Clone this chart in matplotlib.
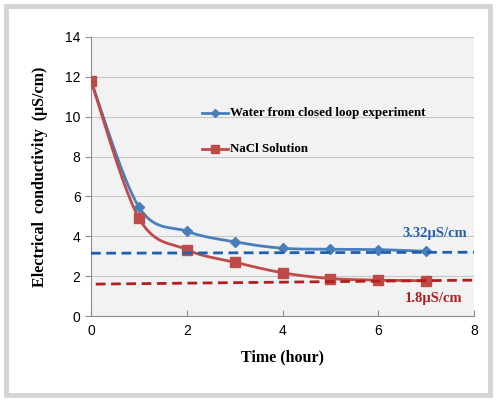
import numpy as np
import matplotlib.pyplot as plt
from matplotlib.patches import Rectangle

# data
hours = [0, 1, 2, 3, 4, 5, 6, 7]
water = [11.8, 5.47, 4.25, 3.72, 3.4, 3.35, 3.33, 3.25]
nacl = [11.8, 4.92, 3.33, 2.7, 2.17, 1.88, 1.8, 1.77]

# trend lines (start/end)
water_trend_x = [0, 8]
water_trend_y = [3.15, 3.2]
nacl_trend_x = [0.1, 8]
nacl_trend_y = [1.6, 1.8]

water_label = 'Water from closed loop experiment'
nacl_label = 'NaCl Solution'
water_note = '3.32\u03bcS/cm'
nacl_note = '1.8\u03bcS/cm'

SERIF = ['Liberation Serif', 'DejaVu Serif']
SANS = ['Liberation Sans', 'DejaVu Sans']


def smooth(xs, ys, n=30):
    # Excel-like smoothed line: bezier with catmull-rom control points
    x = np.asarray(xs, float)
    y = np.asarray(ys, float)
    px, py = [], []
    t = np.linspace(0, 1, n)
    for i in range(len(x) - 1):
        i0 = max(i - 1, 0)
        i3 = min(i + 2, len(x) - 1)
        c1x = x[i] + (x[i + 1] - x[i0]) / 6
        c1y = y[i] + (y[i + 1] - y[i0]) / 6
        c2x = x[i + 1] - (x[i3] - x[i]) / 6
        c2y = y[i + 1] - (y[i3] - y[i]) / 6
        bx = ((1 - t) ** 3 * x[i] + 3 * (1 - t) ** 2 * t * c1x
              + 3 * (1 - t) * t ** 2 * c2x + t ** 3 * x[i + 1])
        by = ((1 - t) ** 3 * y[i] + 3 * (1 - t) ** 2 * t * c1y
              + 3 * (1 - t) * t ** 2 * c2y + t ** 3 * y[i + 1])
        px.extend(bx)
        py.extend(by)
    return np.array(px), np.array(py)


fig = plt.figure(figsize=(5, 4), dpi=100)
fig.patch.set_facecolor('white')
# gray card border
fig.patches.append(Rectangle((0.012, 0.012), 0.968, 0.972, transform=fig.transFigure,
                             fill=False, edgecolor='#d4d4d4', linewidth=3.5))

ax = fig.add_axes([0.182, 0.21, 0.766, 0.6975])
ax.set_facecolor('#f2f2f2')

blue = '#4a7ebb'
red = '#be4b48'

sx, sy = smooth(hours, water)
ax.plot(sx, sy, color=blue, linewidth=2, zorder=3)
ax.plot(hours, water, linestyle='none', marker='D', markersize=5.5,
        color=blue, zorder=4)

sx, sy = smooth(hours, nacl)
ax.plot(sx, sy, color=red, linewidth=2, zorder=3)
ax.plot(hours, nacl, linestyle='none', marker='s', markersize=7.5,
        color=red, zorder=4)

ax.plot(water_trend_x, water_trend_y, color='#1f5fae', linewidth=2,
        linestyle=(0, (3.5, 2)), zorder=5)
ax.plot(nacl_trend_x, nacl_trend_y, color='#b01e1e', linewidth=2,
        linestyle=(0, (3.5, 2)), zorder=5)

# legend drawn inside the plot like the original
ax.plot([2.32, 2.86], [10.19, 10.19], color=blue, linewidth=2)
ax.plot([2.59], [10.19], marker='D', markersize=4, color=blue)
ax.plot([2.32, 2.86], [8.38, 8.38], color=red, linewidth=2)
ax.plot([2.59], [8.38], marker='s', markersize=6, color=red)
ax.text(2.9, 10.19, water_label, family=SERIF, fontweight='bold', fontsize=9.4,
        va='center', ha='left')
ax.text(2.9, 8.38, nacl_label, family=SERIF, fontweight='bold', fontsize=9.4,
        va='center', ha='left')

ax.text(6.5, 4.15, water_note, family=SERIF, fontweight='bold', fontsize=10.5,
        color='#2463a8', va='center', ha='left')
ax.text(6.55, 0.9, nacl_note, family=SERIF, fontweight='bold', fontsize=10.5,
        color='#b01e1e', va='center', ha='left')

ax.set_xlim(0, 8)
ax.set_ylim(0, 14)
ax.set_xticks(np.arange(0, 9, 2))
ax.set_yticks(np.arange(0, 15, 2))
ax.grid(axis='y', color='#c8c8c8', linewidth=0.8)
ax.set_axisbelow(True)
for s in ['top', 'right']:
    ax.spines[s].set_visible(False)
for s in ['left', 'bottom']:
    ax.spines[s].set_color('#8c8c8c')
    ax.spines[s].set_linewidth(0.8)
ax.tick_params(axis='both', length=4, color='#8c8c8c', labelsize=10)
for lab in ax.get_xticklabels() + ax.get_yticklabels():
    lab.set_family(SANS)
ax.tick_params(axis='x', direction='in', pad=6)
ax.tick_params(axis='y', direction='out')

ax.set_xlabel('Time (hour)', family=SERIF, fontweight='bold', fontsize=11.5,
              labelpad=8)
ax.set_ylabel('Electrical  conductivity  (\u03bcS/cm)', family=SERIF,
              fontweight='bold', fontsize=11.5, labelpad=12)

fig.savefig('out.png', dpi=100)
